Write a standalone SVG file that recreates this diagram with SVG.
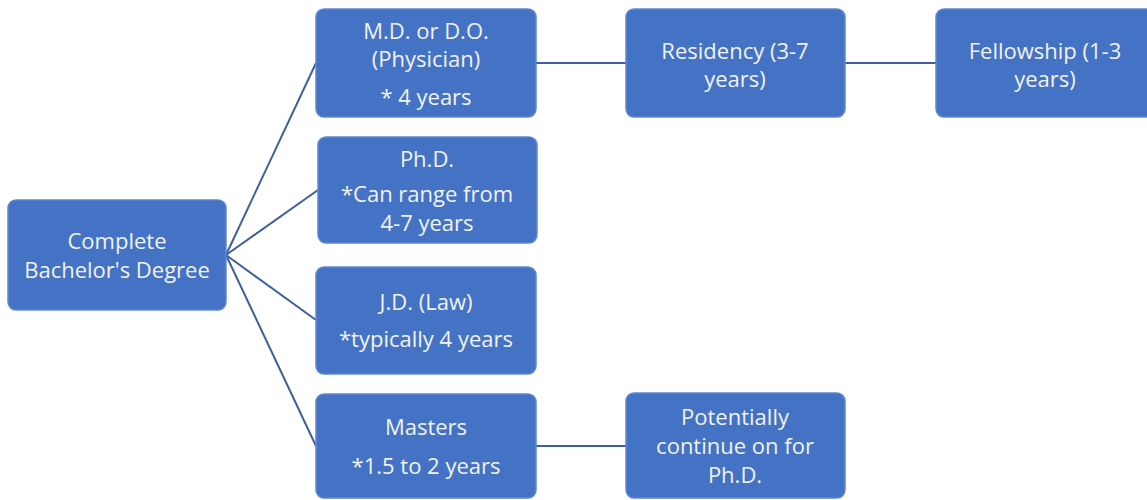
<svg xmlns="http://www.w3.org/2000/svg" width="1147" height="500" viewBox="0 0 1147 500">
<style>
.box{fill:#4472C4;stroke:#5f88cf;stroke-width:1.5}
.t{font-family:"Open Sans","Liberation Sans",Arial,sans-serif;font-size:22px;fill:#f2f2f2;text-anchor:middle}
.c{stroke:#3d5f9e;stroke-width:2;fill:none}
</style>
<rect width="1147" height="500" fill="#ffffff"/>
<g id="connectors">
<line class="c" x1="226" y1="255" x2="316" y2="63"/>
<line class="c" x1="226" y1="255" x2="318" y2="190"/>
<line class="c" x1="226" y1="255" x2="316" y2="320"/>
<line class="c" x1="226" y1="255" x2="316" y2="446"/>
<line class="c" x1="536" y1="63" x2="626" y2="63"/>
<line class="c" x1="845" y1="63" x2="936" y2="63"/>
<line class="c" x1="536" y1="446" x2="626" y2="446"/>
</g>
<g id="bachelor">
<rect class="box" x="8" y="200" width="218" height="110" rx="8"/>
<text class="t" x="117" y="249">Complete</text>
<text class="t" x="117" y="278">Bachelor's Degree</text>
</g>
<g id="md">
<rect class="box" x="316" y="9" width="220" height="108" rx="8"/>
<text class="t" x="426" y="39">M.D. or D.O.</text>
<text class="t" x="426" y="67">(Physician)</text>
<text class="t" x="426" y="105">* 4 years</text>
</g>
<g id="phd">
<rect class="box" x="318" y="137" width="219" height="106" rx="8"/>
<text class="t" x="427" y="167">Ph.D.</text>
<text class="t" x="427" y="202">*Can range from</text>
<text class="t" x="427" y="231">4-7 years</text>
</g>
<g id="jd">
<rect class="box" x="316" y="267" width="220" height="107" rx="8"/>
<text class="t" x="426" y="310">J.D. (Law)</text>
<text class="t" x="426" y="347">*typically 4 years</text>
</g>
<g id="masters">
<rect class="box" x="316" y="394" width="220" height="104" rx="8"/>
<text class="t" x="426" y="435">Masters</text>
<text class="t" x="426" y="474">*1.5 to 2 years</text>
</g>
<g id="residency">
<rect class="box" x="626" y="9" width="219" height="108" rx="8"/>
<text class="t" x="735" y="59">Residency (3-7</text>
<text class="t" x="735" y="87">years)</text>
</g>
<g id="fellowship">
<rect class="box" x="936" y="9" width="219" height="108" rx="8"/>
<text class="t" x="1045" y="59">Fellowship (1-3</text>
<text class="t" x="1045" y="87">years)</text>
</g>
<g id="potentially">
<rect class="box" x="626" y="393" width="219" height="105" rx="8"/>
<text class="t" x="735" y="425">Potentially</text>
<text class="t" x="735" y="454">continue on for</text>
<text class="t" x="735" y="483">Ph.D.</text>
</g>
</svg>
